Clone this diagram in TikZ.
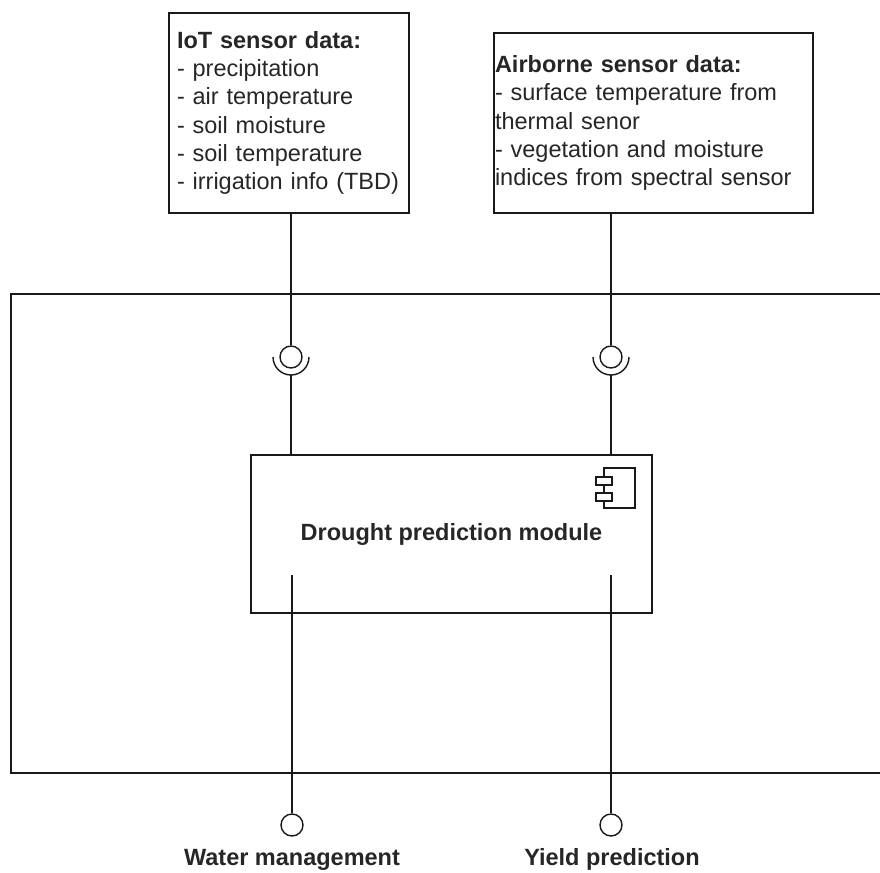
\documentclass[tikz,border=0pt]{standalone}
\usepackage{fontspec}
\setmainfont{Liberation Sans}
\begin{document}
\begin{tikzpicture}[x=1pt,y=-1pt,
  box/.style={draw=black!90, line width=1.7pt, rectangle, inner sep=0pt},
  wire/.style={draw=black!90, line width=1.4pt},
  txt/.style={font=\fontsize{23.5}{28.2}\selectfont, text=black!85},
  lolli/.style={circle, wire, minimum size=22pt, inner sep=0pt, fill=white},
  label/.style={txt, font=\fontsize{23.5}{28.2}\selectfont\bfseries, anchor=base}]
  \useasboundingbox (0,0) rectangle (880,872);
  \clip (0,0) rectangle (880,872);

  % system boundary, open to the right
  \draw[box] (900,294) -- (11,294) -- (11,773) -- (900,773);

  % data sources
  \node[box, txt, minimum width=240pt, minimum height=200pt, text width=224pt,
        inner xsep=8pt, align=left] (iot) at (289,113)
    {\textbf{IoT sensor data:}\\- precipitation\\- air temperature\\- soil moisture\\- soil temperature\\- irrigation info (TBD)};
  \node[box, txt, minimum height=180pt, text width=317pt, inner xsep=1pt,
        align=left] (air) at (653.5,123)
    {\textbf{Airborne sensor data:}\\- surface temperature from\\thermal senor\\- vegetation and moisture\\indices from spectral sensor};

  % component
  \node[box, txt, font=\fontsize{23.5}{28.2}\selectfont\bfseries,
        minimum width=401pt, minimum height=158pt] (comp) at (451.5,534)
    {Drought prediction module};
  % component icon
  \draw[wire] (604,468) rectangle (635,508);
  \draw[wire, fill=white] (596,477) rectangle (612,485);
  \draw[wire, fill=white] (596,493) rectangle (612,501);

  % required interfaces (sockets)
  \node[lolli] (s1) at (291,357) {};
  \node[lolli] (s2) at (611,357) {};
  \draw[wire] ([xshift=-18pt]s1.center) arc[start angle=180, end angle=360, radius=18pt];
  \draw[wire] ([xshift=-18pt]s2.center) arc[start angle=180, end angle=360, radius=18pt];
  \draw[wire] (iot.south -| s1) -- (s1.north);
  \draw[wire] (air.south -| s2) -- (s2.north);
  \draw[wire] ([yshift=-18pt]s1.center) -- (s1 |- comp.north);
  \draw[wire] ([yshift=-18pt]s2.center) -- (s2 |- comp.north);

  % provided interfaces (lollipops)
  \coordinate (p1) at (292,575);
  \coordinate (p2) at (611,575);
  \node[lolli] (o1) at (292,825) {};
  \node[lolli] (o2) at (611,825) {};
  \draw[wire] (p1) -- (o1.north);
  \draw[wire] (p2) -- (o2.north);
  \node[label] (l1) at (292,865.5) {Water management};
  \node[label] (l2) at (612,865.5) {Yield prediction};
\end{tikzpicture}
\end{document}
